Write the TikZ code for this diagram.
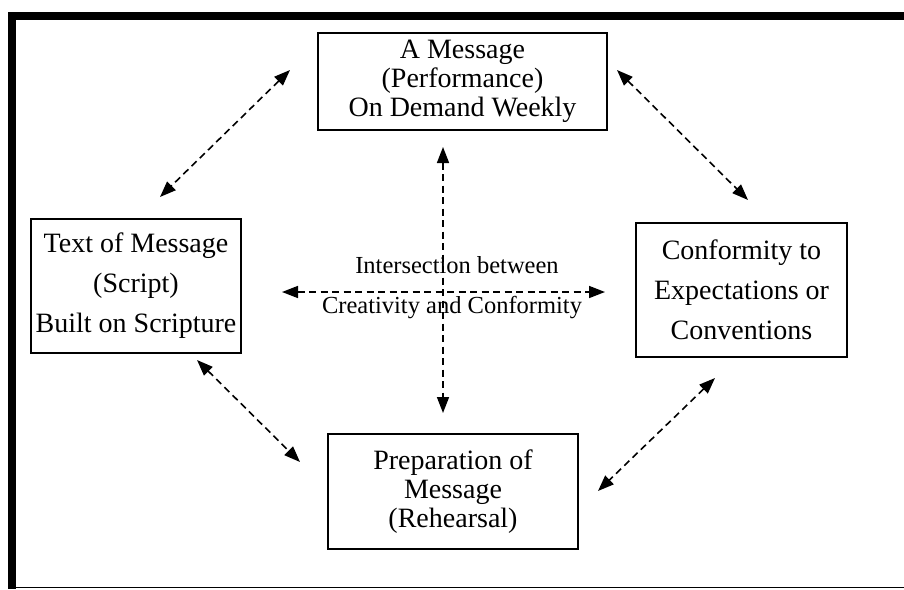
\documentclass[tikz,border=0pt]{standalone}
\usepackage{fontspec}
\setmainfont{Liberation Serif}
\usetikzlibrary{arrows.meta}
\begin{document}
\begin{tikzpicture}[x=1pt,y=-1pt,
  box/.style={draw, line width=1.5pt, rectangle, align=center, inner sep=0pt},
  link/.style={dash pattern=on 7pt off 4.5pt, line width=1.6pt,
    {Triangle[length=16pt,width=12pt]}-{Triangle[length=16pt,width=12pt]}},
  tight/.style={font=\fontsize{28}{29}\selectfont},
  loose/.style={font=\fontsize{28}{40}\selectfont},
  midlabel/.style={font=\fontsize{24.5}{26}\selectfont, anchor=base}]
\useasboundingbox (0,0) rectangle (904,589);
% frame
\fill (8,12) rectangle (16,589);
\fill (8,12) rectangle (904,19.5);
\draw[line width=1.5pt] (8,587.5) -- (904,587.5);
% boxes
\node[box, tight, minimum width=289pt, minimum height=97pt] (top) at (462.5,81.5)
  {A Message\\(Performance)\\On Demand Weekly};
\node[box, loose, minimum width=210pt, minimum height=134pt] (left) at (136,286)
  {Text of Message\\(Script)\\Built on Scripture};
\node[box, loose, minimum width=211pt, minimum height=134pt] (right) at (741.5,290)
  {Conformity to\\Expectations or\\Conventions};
\node[box, tight, minimum width=250pt, minimum height=115pt] (bottom) at (453,491.5)
  {Preparation of\\Message\\(Rehearsal)};
% centre labels
\node[midlabel] (lab1) at (457,273) {Intersection between};
\node[midlabel] (lab2) at (452,313) {Creativity and Conformity};
% arrow ends
\coordinate (tl1) at (290,70);  \coordinate (tl2) at (160,197);
\coordinate (tr1) at (617,70);  \coordinate (tr2) at (748,200);
\coordinate (bl1) at (197,360); \coordinate (bl2) at (300,462);
\coordinate (br1) at (715,378); \coordinate (br2) at (598,491);
\coordinate (h1) at (282,292);  \coordinate (h2) at (605,292);
\coordinate (v1) at (443,147);  \coordinate (v2) at (443,413);
\draw[link] (tl1) -- (tl2);
\draw[link] (tr1) -- (tr2);
\draw[link] (bl1) -- (bl2);
\draw[link] (br1) -- (br2);
\draw[link] (h1) -- (h2);
\draw[link] (v1) -- (v2);
\end{tikzpicture}
\end{document}
